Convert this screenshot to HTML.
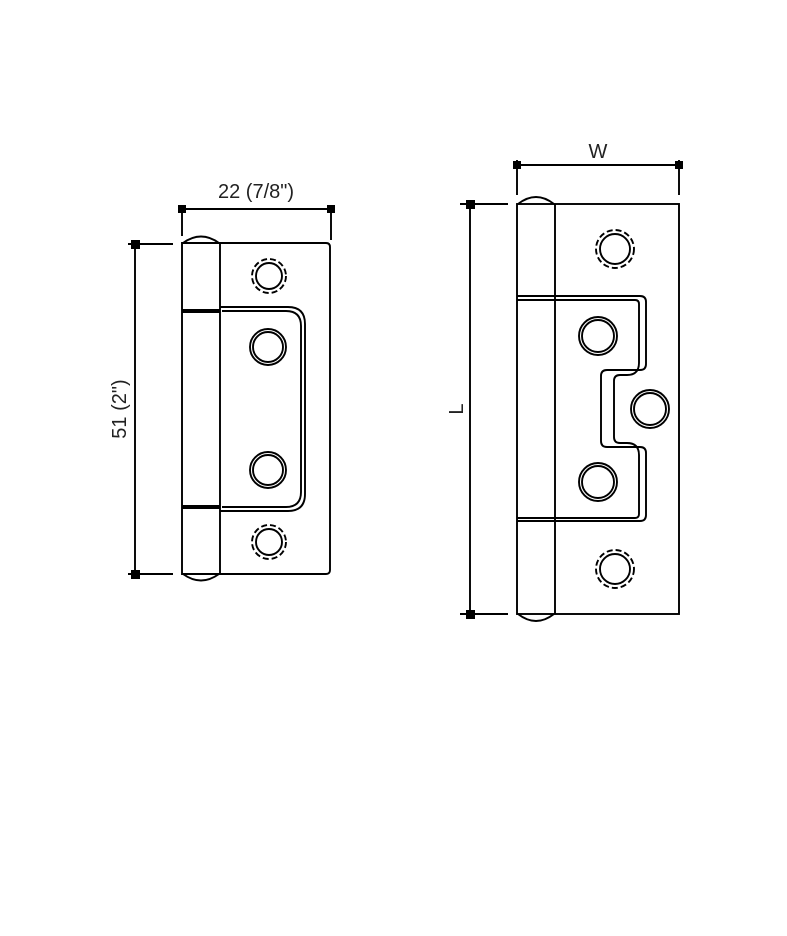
<!DOCTYPE html>
<html><head><style>body{margin:0;background:#fff}svg{display:block}</style></head><body>
<svg width="787" height="936" viewBox="0 0 787 936" xmlns="http://www.w3.org/2000/svg" fill="none" stroke="#000" stroke-width="1.9">
<g font-family="Liberation Sans, sans-serif" font-size="20" fill="#222" stroke="none">
<text x="256" y="198" text-anchor="middle">22 (7/8")</text>
<text x="126" y="409" text-anchor="middle" transform="rotate(-90 126 409)">51 (2")</text>
<text x="598" y="158" text-anchor="middle">W</text>
<text x="463" y="409" text-anchor="middle" transform="rotate(-90 463 409)">L</text>
</g>
<line x1="182" y1="209" x2="331" y2="209"/>
<line x1="182" y1="205" x2="182" y2="236"/>
<line x1="331" y1="205" x2="331" y2="240"/>
<rect x="178" y="205" width="8" height="8" fill="#000" stroke="none"/>
<rect x="327" y="205" width="8" height="8" fill="#000" stroke="none"/>
<line x1="135" y1="244" x2="135" y2="574"/>
<line x1="128" y1="244" x2="173" y2="244"/>
<line x1="128" y1="574" x2="173" y2="574"/>
<rect x="131" y="240" width="9" height="9" fill="#000" stroke="none"/>
<rect x="131" y="570" width="9" height="9" fill="#000" stroke="none"/>
<path d="M182 243 H326 Q330 243 330 247 V570 Q330 574 326 574 H182 Z"/>
<line x1="220" y1="243" x2="220" y2="574"/>
<path d="M183 243 Q201 230 219 243"/>
<path d="M183 574 Q201 587 219 574"/>
<line x1="182" y1="310" x2="220" y2="310"/>
<line x1="182" y1="312" x2="220" y2="312"/>
<line x1="182" y1="506" x2="220" y2="506"/>
<line x1="182" y1="508" x2="220" y2="508"/>
<path d="M220 307 H288 Q305 307 305 324 V494 Q305 511 288 511 H220"/>
<path d="M222 311 H286 Q301 311 301 326 V492 Q301 507 286 507 H222"/>
<circle cx="269" cy="276" r="17" stroke-dasharray="6 3"/>
<circle cx="269" cy="276" r="13"/>
<circle cx="268" cy="347" r="18"/><circle cx="268" cy="347" r="15"/>
<circle cx="268" cy="470" r="18"/><circle cx="268" cy="470" r="15"/>
<circle cx="269" cy="542" r="17" stroke-dasharray="6 3"/>
<circle cx="269" cy="542" r="13"/>
<line x1="517" y1="165" x2="679" y2="165"/>
<line x1="517" y1="160" x2="517" y2="195"/>
<line x1="679" y1="160" x2="679" y2="195"/>
<rect x="513" y="161" width="8" height="8" fill="#000" stroke="none"/>
<rect x="675" y="161" width="8" height="8" fill="#000" stroke="none"/>
<line x1="470" y1="204" x2="470" y2="614"/>
<line x1="460" y1="204" x2="508" y2="204"/>
<line x1="460" y1="614" x2="508" y2="614"/>
<rect x="466" y="200" width="9" height="9" fill="#000" stroke="none"/>
<rect x="466" y="610" width="9" height="9" fill="#000" stroke="none"/>
<rect x="517" y="204" width="162" height="410"/>
<line x1="555" y1="204" x2="555" y2="614"/>
<path d="M518 204 Q536 190 554 204"/>
<path d="M518 614 Q536 628 554 614"/>
<path d="M517 296 H640 Q646 296 646 302 V364 Q646 370 640 370 H607 Q601 370 601 376 V441 Q601 447 607 447 H640 Q646 447 646 453 V515 Q646 521 640 521 H517"/>
<path d="M517 300 H635 Q639 300 639 304 V363 Q639 375 627 375 H620 Q614 375 614 381 V437 Q614 443 620 443 H627 Q639 443 639 455 V514 Q639 518 635 518 H517"/>
<circle cx="615" cy="249" r="19" stroke-dasharray="6 3"/>
<circle cx="615" cy="249" r="15"/>
<circle cx="598" cy="336" r="19"/><circle cx="598" cy="336" r="16"/>
<circle cx="650" cy="409" r="19"/><circle cx="650" cy="409" r="16"/>
<circle cx="598" cy="482" r="19"/><circle cx="598" cy="482" r="16"/>
<circle cx="615" cy="569" r="19" stroke-dasharray="6 3"/>
<circle cx="615" cy="569" r="15"/>
</svg>
</body></html>
